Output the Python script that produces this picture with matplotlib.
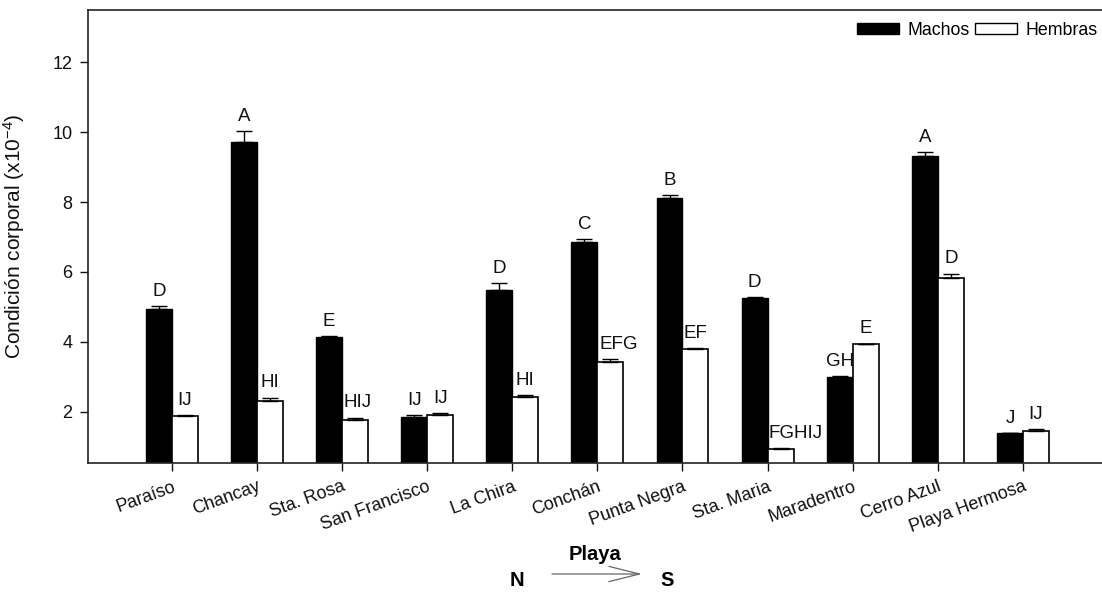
import numpy as np
import matplotlib.pyplot as plt
from matplotlib.patches import Patch, FancyArrowPatch

plt.rcParams['font.family'] = ['Liberation Sans', 'DejaVu Sans']
plt.rcParams['mathtext.fontset'] = 'custom'
plt.rcParams['mathtext.rm'] = 'Liberation Sans'
plt.rcParams['mathtext.it'] = 'Liberation Sans:italic'

playas = ['Paraíso', 'Chancay', 'Sta. Rosa', 'San Francisco', 'La Chira', 'Conchán',
          'Punta Negra', 'Sta. Maria', 'Maradentro', 'Cerro Azul', 'Playa Hermosa']
machos = [4.95, 9.71, 4.14, 1.86, 5.48, 6.85, 8.11, 5.24, 3.00, 9.33, 1.38]
machos_err = [0.08, 0.33, 0.02, 0.03, 0.19, 0.08, 0.10, 0.04, 0.02, 0.11, 0.01]
hembras = [1.87, 2.31, 1.77, 1.91, 2.42, 3.42, 3.79, 0.93, 3.93, 5.84, 1.45]
hembras_err = [0.02, 0.09, 0.06, 0.05, 0.05, 0.08, 0.02, 0.03, 0.02, 0.11, 0.04]
letras_m = ['D', 'A', 'E', 'IJ', 'D', 'C', 'B', 'D', 'GH', 'A', 'J']
letras_h = ['IJ', 'HI', 'HIJ', 'IJ', 'HI', 'EFG', 'EF', 'FGHIJ', 'E', 'D', 'IJ']

W, H = 1102, 593
fig = plt.figure(figsize=(W / 100, H / 100), dpi=100)
ax = fig.add_axes([87.6 / W, 1 - 463 / H, (1108 - 87.6) / W, (463 - 10) / H])

x = np.arange(len(playas))
w = 0.305
err_kw = dict(ecolor='black', elinewidth=1, capsize=5.5, capthick=1)
ax.bar(x - w / 2, machos, w, color='black', edgecolor='black', linewidth=1,
       yerr=[np.zeros(len(x)), machos_err], error_kw=err_kw, zorder=2)
ax.bar(x + w / 2, hembras, w, color='white', edgecolor='black', linewidth=1.2,
       yerr=[np.zeros(len(x)), hembras_err], error_kw=err_kw, zorder=2)

# long labels sit a bit to the right of the white bar
shift = {'HIJ': 2, 'EFG': 6, 'FGHIJ': 11}
for i in range(len(x)):
    ax.annotate(letras_m[i], (x[i] - w / 2, machos[i] + machos_err[i]),
                xytext=(0, 4.5), textcoords='offset points', ha='center', va='bottom',
                fontsize=13.5, color='#111111')
    ax.annotate(letras_h[i], (x[i] + w / 2, hembras[i] + hembras_err[i]),
                xytext=(shift.get(letras_h[i], 0), 4.5), textcoords='offset points',
                ha='center', va='bottom', fontsize=13.5, color='#111111')

ax.set_xlim(-0.99, 11)
ax.set_ylim(0.53, 13.5)
ax.set_yticks([2, 4, 6, 8, 10, 12])
ax.set_xticks(x)
ax.set_xticklabels(playas, rotation=20, ha='right', rotation_mode='anchor')
ax.tick_params(axis='both', direction='out', length=6, width=1, labelsize=13,
               colors='#111111')
ax.tick_params(axis='x', pad=5)
ax.tick_params(axis='y', pad=5)
for s in ax.spines.values():
    s.set_linewidth(1.2)
    s.set_color('#222222')

ax.set_ylabel('Condición corporal (x10$^{-4}$)', fontsize=15, color='#111111')
ax.yaxis.set_label_coords(-0.059, 0.5)

handles = [Patch(facecolor='black', edgecolor='black', label='Machos'),
           Patch(facecolor='white', edgecolor='black', label='Hembras')]
fig.legend(handles=handles, loc='upper left', bbox_to_anchor=(857 / W, 1 - 22 / H),
           ncol=2, frameon=False, fontsize=12.8, handlelength=2.35, handleheight=0.55,
           handletextpad=0.5, columnspacing=0.3, borderpad=0, borderaxespad=0)

fig.text(595 / W, 1 - 555 / H, 'Playa', ha='center', va='center', fontsize=14.5,
         fontweight='bold')
fig.text(517 / W, 1 - 580 / H, 'N', ha='center', va='center', fontsize=14.5,
         fontweight='bold')
fig.text(667 / W, 1 - 580 / H, 'S', ha='center', va='center', fontsize=14.5,
         fontweight='bold')
arrow = FancyArrowPatch((552 / W, 1 - 574 / H), (642 / W, 1 - 574 / H),
                        transform=fig.transFigure,
                        arrowstyle='->,head_length=22,head_width=5.5',
                        mutation_scale=1, color='#666666', linewidth=0.9,
                        shrinkA=0, shrinkB=0)
fig.add_artist(arrow)

fig.savefig('out.png', dpi=100)
